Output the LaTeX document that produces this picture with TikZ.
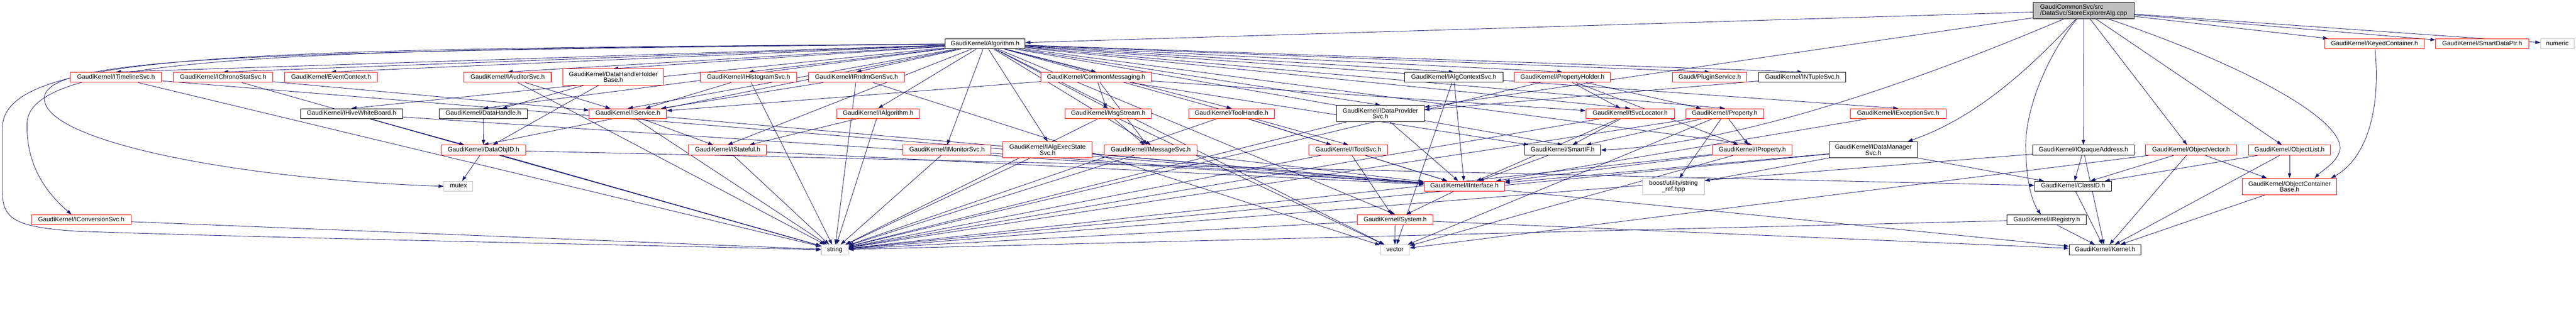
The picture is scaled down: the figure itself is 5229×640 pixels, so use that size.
\documentclass[tikz,border=0pt]{standalone}
\usepackage{fontspec}
\setmainfont{Liberation Sans}
\usetikzlibrary{arrows.meta}
\pgfdeclarelayer{background}
\pgfsetlayers{background,main}
\definecolor{edgeblue}{HTML}{191970}
\definecolor{grey75}{HTML}{BFBFBF}
\begin{document}
\begin{tikzpicture}[x=1pt,y=-1pt,
    font=\fontsize{12.8pt}{12pt}\selectfont,
    hdr/.style={draw=black,fill=white,line width=1.1pt,inner sep=2pt,minimum height=20.5pt,text height=9.2pt,text depth=2.8pt},
    hdrtwo/.style={draw=black,fill=white,line width=1.1pt,inner sep=2pt,minimum height=33pt,align=center},
    trunc/.style={draw=red},
    sys/.style={draw=grey75},
    dep/.style={draw=edgeblue,line width=0.9pt,-{Triangle[length=10pt,width=7pt]}}]
        \useasboundingbox (0,0) rectangle (5229,640);
        \node[hdrtwo,fill=grey75,align=left,minimum width=205pt] (root) at (4229.5,21.5) {GaudiCommonSvc/src\\/DataSvc/StoreExplorerAlg.cpp};
        \node[hdr,minimum width=163pt] (alg) at (1999.5,89) {GaudiKernel/Algorithm.h};
        \node[hdr,trunc,minimum width=202pt] (keyed) at (4820,89) {GaudiKernel/KeyedContainer.h};
        \node[hdr,trunc,minimum width=189pt] (sdptr) at (5038.5,89) {GaudiKernel/SmartDataPtr.h};
        \node[hdr,sys,minimum width=68pt] (numeric) at (5191,89) {numeric};
        \node[hdr,trunc,minimum width=185pt] (itimeline) at (235.5,157) {GaudiKernel/ITimelineSvc.h};
        \node[hdr,trunc,minimum width=202pt] (ichrono) at (453,157) {GaudiKernel/IChronoStatSvc.h};
        \node[hdr,trunc,minimum width=188pt] (evtctx) at (672,157) {GaudiKernel/EventContext.h};
        \node[hdr,trunc,minimum width=177pt] (iauditor) at (1030.5,157) {GaudiKernel/IAuditorSvc.h};
        \node[hdrtwo,trunc,minimum width=204pt] (dhholder) at (1245,156.5) {GaudiKernel/DataHandleHolder\\Base.h};
        \node[hdr,trunc,minimum width=195pt] (ihisto) at (1519.5,157) {GaudiKernel/IHistogramSvc.h};
        \node[hdr,trunc,minimum width=195pt] (irndm) at (1738.5,157) {GaudiKernel/IRndmGenSvc.h};
        \node[hdr,trunc,minimum width=224pt] (cmsg) at (2225,157) {GaudiKernel/CommonMessaging.h};
        \node[hdr,minimum width=200pt] (ialgctx) at (2951,157) {GaudiKernel/IAlgContextSvc.h};
        \node[hdr,trunc,minimum width=195pt] (propholder) at (3171.5,157) {GaudiKernel/PropertyHolder.h};
        \node[hdr,trunc,minimum width=151pt] (plugin) at (3470.5,157) {Gaudi/PluginService.h};
        \node[hdr,minimum width=177pt] (intuple) at (3658.5,157) {GaudiKernel/INTupleSvc.h};
        \node[hdr,minimum width=207pt] (ihive) at (713.5,231) {GaudiKernel/IHiveWhiteBoard.h};
        \node[hdr,minimum width=178pt] (dhandle) at (981,231) {GaudiKernel/DataHandle.h};
        \node[hdr,trunc,minimum width=157pt] (iservice) at (1274.5,231) {GaudiKernel/IService.h};
        \node[hdr,trunc,minimum width=167pt] (ialgo) at (1782.5,231) {GaudiKernel/IAlgorithm.h};
        \node[hdr,trunc,minimum width=175pt] (msgstream) at (2249.5,231) {GaudiKernel/MsgStream.h};
        \node[hdr,trunc,minimum width=174pt] (toolhandle) at (2500,231) {GaudiKernel/ToolHandle.h};
        \node[hdrtwo,minimum width=178pt] (idataprov) at (2802,230.5) {GaudiKernel/IDataProvider\\Svc.h};
        \node[hdr,trunc,minimum width=180pt] (isvcloc) at (3309,231) {GaudiKernel/ISvcLocator.h};
        \node[hdr,trunc,minimum width=158pt] (property) at (3501,231) {GaudiKernel/Property.h};
        \node[hdr,trunc,minimum width=194pt] (iexcept) at (3853,231) {GaudiKernel/IExceptionSvc.h};
        \node[hdr,trunc,minimum width=171pt] (dataobjid) at (981.5,305) {GaudiKernel/DataObjID.h};
        \node[hdr,trunc,minimum width=158pt] (istateful) at (1477,305) {GaudiKernel/IStateful.h};
        \node[hdr,trunc,minimum width=179pt] (imonitor) at (1922.5,305) {GaudiKernel/IMonitorSvc.h};
        \node[hdrtwo,trunc,minimum width=181pt] (iexecstate) at (2126.5,304.5) {GaudiKernel/IAlgExecState\\Svc.h};
        \node[hdr,trunc,minimum width=188pt] (imsgsvc) at (2336,305) {GaudiKernel/IMessageSvc.h};
        \node[hdr,trunc,minimum width=160pt] (itoolsvc) at (2737,305) {GaudiKernel/IToolSvc.h};
        \node[hdr,minimum width=154pt] (smartif) at (3172,305) {GaudiKernel/SmartIF.h};
        \node[hdr,trunc,minimum width=162pt] (iproperty) at (3557,305) {GaudiKernel/IProperty.h};
        \node[hdrtwo,minimum width=179pt] (idataman) at (3802.5,304.5) {GaudiKernel/IDataManager\\Svc.h};
        \node[hdr,minimum width=206pt] (iopaque) at (4229,305) {GaudiKernel/IOpaqueAddress.h};
        \node[hdr,trunc,minimum width=185pt] (objvector) at (4447.5,305) {GaudiKernel/ObjectVector.h};
        \node[hdr,trunc,minimum width=167pt] (objlist) at (4647.5,305) {GaudiKernel/ObjectList.h};
        \node[hdr,sys,minimum width=59pt] (mutex) at (930.5,378.5) {mutex};
        \node[hdr,trunc,minimum width=163pt] (iinterface) at (2972.5,378.5) {GaudiKernel/IInterface.h};
        \node[hdrtwo,sys,minimum width=126pt] (boostref) at (3397,379) {boost/utility/string\\\_ref.hpp};
        \node[hdr,minimum width=156pt] (classid) at (4208,378.5) {GaudiKernel/ClassID.h};
        \node[hdrtwo,trunc,minimum width=191pt] (objbase) at (4647.5,379) {GaudiKernel/ObjectContainer\\Base.h};
        \node[hdr,trunc,minimum width=202pt] (iconversion) at (165,446.5) {GaudiKernel/IConversionSvc.h};
        \node[hdr,trunc,minimum width=154pt] (system) at (2832,446.5) {GaudiKernel/System.h};
        \node[hdr,minimum width=161pt] (iregistry) at (4154.5,446.5) {GaudiKernel/IRegistry.h};
        \node[hdr,sys,minimum width=55pt] (string) at (1694.5,507.5) {string};
        \node[hdr,sys,minimum width=59pt] (vector) at (2831.5,507.5) {vector};
        \node[hdr,minimum width=146pt] (kernel) at (4273,507.5) {GaudiKernel/Kernel.h};
        \begin{pgfonlayer}{background}
        \fill[white] (0,0) rectangle (5229,640);
        \draw[dep] (root) -- (alg);
        \draw[dep] (root) -- (keyed);
        \draw[dep] (root) -- (sdptr);
        \draw[dep] (root) -- (numeric);
        \draw[dep] (root) -- (idataprov);
        \draw[dep] (root) .. controls (4120,140) and (4010,240) .. ([xshift=-20pt]idataman.north east);
        \draw[dep] (root) -- (iopaque);
        \draw[dep] (root) .. controls (4150,120) and (4110,230) .. (4112,300) .. controls (4113,370) and (4125,410) .. ([xshift=-12pt]iregistry.north);
        \draw[dep] (root) -- (objvector);
        \draw[dep] (root) -- (objlist);
        \draw[dep] (root) .. controls (4550,130) and (4755,240) .. (4750,303) .. controls (4745,330) and (4715,345) .. ([xshift=-45pt]objbase.north east);
        \draw[dep] (root) .. controls (3950,140) and (3560,290) .. (smartif.east);
        \draw[dep] (alg) -- (itimeline.north);
        \draw[dep] (alg) -- (ichrono.north);
        \draw[dep] (alg) -- (evtctx.north);
        \draw[dep] (alg) -- (ihive.north);
        \draw[dep] (alg) -- (iauditor.north);
        \draw[dep] (alg) -- (dhholder.north);
        \draw[dep] (alg) -- (dhandle.north);
        \draw[dep] (alg) -- (dataobjid.north);
        \draw[dep] (alg) -- (iservice.north);
        \draw[dep] (alg) -- (ihisto.north);
        \draw[dep] (alg) -- (irndm.north);
        \draw[dep] (alg) -- (ialgo.north);
        \draw[dep] (alg) -- (istateful.north);
        \draw[dep] (alg) -- (imonitor.north);
        \draw[dep] (alg) -- (iexecstate.north);
        \draw[dep] (alg) -- (cmsg.north);
        \draw[dep] (alg) -- (msgstream.north);
        \draw[dep] (alg) -- (imsgsvc.north);
        \draw[dep] (alg) -- (toolhandle.north);
        \draw[dep] (alg) -- (itoolsvc.north);
        \draw[dep] (alg) -- (ialgctx.north);
        \draw[dep] (alg) -- (idataprov.north);
        \draw[dep] (alg) -- (propholder.north);
        \draw[dep] (alg) -- (isvcloc.north);
        \draw[dep] (alg) -- (smartif.north);
        \draw[dep] (alg) -- (property.north);
        \draw[dep] (alg) -- (iproperty.north);
        \draw[dep] (alg) -- (plugin.north);
        \draw[dep] (alg) -- (intuple.north);
        \draw[dep] (alg) -- (iexcept.north);
        \draw[dep] (alg) -- (system.north);
        \draw[dep] (alg) -- (vector);
        \draw[dep] (alg) .. controls (600,100) and (60,112) .. (55,250) .. controls (52,350) and (110,405) .. ([xshift=-20pt]iconversion.north);
        \draw[dep] (alg) .. controls (500,100) and (5,105) .. (5,260) -- (5,390) .. controls (5,445) and (30,462) .. (160,470) .. controls (600,485) and (1400,500) .. (string.west);
        \draw[dep] (alg) .. controls (520,104) and (90,115) .. (90,200) .. controls (90,290) and (500,365) .. (mutex.west);
        \draw[dep] (itimeline) -- (iinterface);
        \draw[dep] (itimeline) -- (string);
        \draw[dep] (ichrono) -- (iservice);
        \draw[dep] (ichrono) -- (string);
        \draw[dep] (iauditor) -- (iservice);
        \draw[dep] (iauditor) -- (string);
        \draw[dep] (dhholder) -- (dhandle);
        \draw[dep] (dhholder) -- (dataobjid);
        \draw[dep] (ihisto) -- (iservice);
        \draw[dep] (ihisto) -- (string);
        \draw[dep] (irndm) -- (iservice);
        \draw[dep] (irndm) -- (string);
        \draw[dep] (irndm) -- (vector);
        \draw[dep] (cmsg) -- (iservice);
        \draw[dep] (cmsg) -- (isvcloc);
        \draw[dep] (cmsg) -- (imsgsvc);
        \draw[dep] (cmsg) -- (msgstream);
        \draw[dep] (cmsg) -- (smartif);
        \draw[dep] (ialgctx) -- (iinterface);
        \draw[dep] (ialgctx) -- (vector);
        \draw[dep] (propholder) -- (isvcloc);
        \draw[dep] (propholder) -- (property);
        \draw[dep] (propholder) -- (iproperty);
        \draw[dep] (propholder) -- (string);
        \draw[dep] (intuple) -- (idataprov);
        \draw[dep] (ihive) -- (dataobjid);
        \draw[dep] (ihive) -- (iinterface);
        \draw[dep] (ihive) -- (string);
        \draw[dep] (dhandle) -- (dataobjid);
        \draw[dep] (iservice) -- (istateful);
        \draw[dep] (iservice) -- (iinterface);
        \draw[dep] (iservice) -- (string);
        \draw[dep] (ialgo) -- (istateful);
        \draw[dep] (ialgo) -- (string);
        \draw[dep] (msgstream) -- (imsgsvc);
        \draw[dep] (msgstream) -- (string);
        \draw[dep] (msgstream) -- (vector);
        \draw[dep] (toolhandle) -- (itoolsvc);
        \draw[dep] (toolhandle) -- (iinterface);
        \draw[dep] (toolhandle) -- (string);
        \draw[dep] (idataprov) -- (iinterface);
        \draw[dep] (idataprov) -- (string);
        \draw[dep] (isvcloc) -- (smartif);
        \draw[dep] (isvcloc) -- (iinterface);
        \draw[dep] (isvcloc) -- (string);
        \draw[dep] (property) -- (iproperty);
        \draw[dep] (property) -- (boostref);
        \draw[dep] (property) -- (smartif);
        \draw[dep] (property) -- (string);
        \draw[dep] (property) -- (vector);
        \draw[dep] (iexcept) -- (iinterface);
        \draw[dep] (dataobjid) -- (mutex);
        \draw[dep] (dataobjid) -- (string);
        \draw[dep] (dataobjid) -- (classid);
        \draw[dep] (istateful) -- (iinterface);
        \draw[dep] (istateful) -- (string);
        \draw[dep] (imonitor) -- (iinterface);
        \draw[dep] (imonitor) -- (string);
        \draw[dep] (iexecstate) -- (iinterface);
        \draw[dep] (iexecstate) -- (string);
        \draw[dep] (imsgsvc) -- (iinterface);
        \draw[dep] (imsgsvc) -- (string);
        \draw[dep] (itoolsvc) -- (system);
        \draw[dep] (itoolsvc) -- (iinterface);
        \draw[dep] (itoolsvc) -- (string);
        \draw[dep] (smartif) -- (iinterface);
        \draw[dep] (iproperty) -- (iinterface);
        \draw[dep] (iproperty) -- (string);
        \draw[dep] (iproperty) -- (vector);
        \draw[dep] (idataman) -- (iinterface);
        \draw[dep] (idataman) -- (string);
        \draw[dep] (idataman) -- (classid);
        \draw[dep] (idataman) -- (boostref);
        \draw[dep] (iopaque) -- (classid);
        \draw[dep] (iopaque) -- (kernel);
        \draw[dep] (iopaque) -- (string);
        \draw[dep] (objvector) -- (classid);
        \draw[dep] (objvector) -- (objbase);
        \draw[dep] (objvector) -- (kernel);
        \draw[dep] (objvector) -- (vector);
        \draw[dep] (objlist) -- (classid);
        \draw[dep] (objlist) -- (objbase);
        \draw[dep] (objlist) -- (kernel);
        \draw[dep] (keyed) .. controls (4835,250) and (4790,330) .. ([xshift=-12pt]objbase.north east);
        \draw[dep] (iinterface) -- (system);
        \draw[dep] (iinterface) -- (kernel);
        \draw[dep] (classid) -- (kernel);
        \draw[dep] (objbase) -- (kernel);
        \draw[dep] (iconversion) -- (string);
        \draw[dep] (system) -- (vector);
        \draw[dep] (system) -- (string);
        \draw[dep] (system) -- (kernel);
        \draw[dep] (iregistry) -- (kernel);
        \draw[dep] (iregistry) -- (string);
        \end{pgfonlayer}
      \end{tikzpicture}
\end{document}
